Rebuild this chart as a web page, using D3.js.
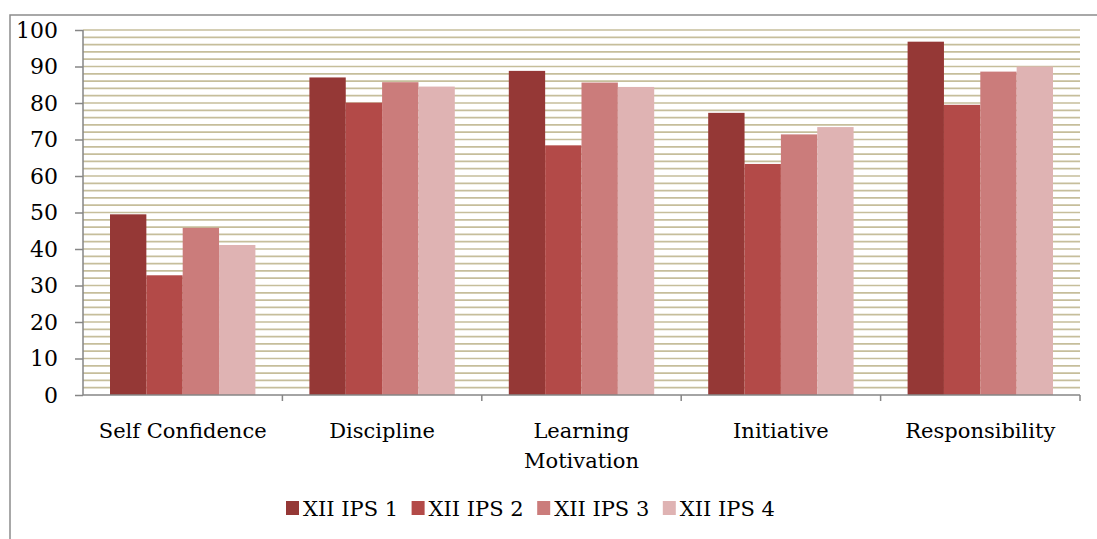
<!DOCTYPE html>
<html>
<head>
<meta charset="utf-8">
<script src="https://cdn.jsdelivr.net/npm/d3@7"></script>
<style>
  body { margin: 0; background: #fff; }
  text { font-family: "DejaVu Serif", serif; fill: #000; }
</style>
</head>
<body>
<svg id="chart" width="1097" height="539"></svg>
<script>
// chart data
var categories = ["Self Confidence", "Discipline", "Learning Motivation", "Initiative", "Responsibility"];
var seriesNames = ["XII IPS 1", "XII IPS 2", "XII IPS 3", "XII IPS 4"];
var ips1 = [49.5, 87.0, 88.8, 77.3, 96.8];
var ips2 = [32.8, 80.1, 68.4, 63.3, 79.5];
var ips3 = [45.8, 85.7, 85.6, 71.4, 88.6];
var ips4 = [41.1, 84.5, 84.4, 73.4, 90.0];
var yTicks = [0, 10, 20, 30, 40, 50, 60, 70, 80, 90, 100];

var seriesValues = [ips1, ips2, ips3, ips4];
var colors = ["#953836", "#b34a48", "#cb7c7b", "#dfb3b3"];

var margin = {top: 30, left: 83, right: 17, bottom: 144};
var svg = d3.select("#chart");
var width = 1097 - margin.left - margin.right,
    height = 539 - margin.top - margin.bottom;

// outer frame (only top and left edges show)
svg.append("path")
    .attr("d", "M10,539 V15 H1097")
    .attr("fill", "none")
    .attr("stroke", "#8c8c8c")
    .attr("stroke-width", 1.5);

var g = svg.append("g")
    .attr("transform", "translate(" + margin.left + "," + margin.top + ")");

var x = d3.scaleBand().domain(categories).range([0, width]).padding(0);
var inner = d3.scaleBand().domain(d3.range(seriesNames.length))
    .range([27, x.bandwidth() - 27]).padding(0);
var y = d3.scaleLinear().domain([0, 100]).range([height, 0]);

// gridlines every 2 units
g.append("g").selectAll("line")
    .data(d3.range(2, 101, 2))
    .enter().append("line")
    .attr("x1", 0).attr("x2", width)
    .attr("y1", function(d) { return y(d); })
    .attr("y2", function(d) { return y(d); })
    .attr("stroke", "#c6be9b")
    .attr("stroke-width", 1.7);

// bars
var rows = categories.map(function(c, i) {
    return seriesValues.map(function(s, j) { return {cat: c, k: j, v: s[i]}; });
});
g.append("g").selectAll("g")
    .data(rows)
    .enter().append("g")
    .attr("transform", function(d) { return "translate(" + x(d[0].cat) + ",0)"; })
    .selectAll("rect")
    .data(function(d) { return d; })
    .enter().append("rect")
    .attr("x", function(d) { return inner(d.k); })
    .attr("y", function(d) { return y(d.v); })
    .attr("width", inner.bandwidth())
    .attr("height", function(d) { return height - y(d.v); })
    .attr("fill", function(d) { return colors[d.k]; });

// y axis
var yAxis = g.append("g")
    .call(d3.axisLeft(y).tickValues(yTicks).tickSize(8).tickPadding(17))
    .call(function(a) { a.select(".domain").attr("d", "M0," + y(100) + "V" + y(0)); });
yAxis.selectAll("line, path").attr("stroke", "#868686").attr("stroke-width", 1.5);
yAxis.selectAll("text").attr("font-size", 22).attr("fill", "#000");

// x axis with ticks at band edges
var xa = g.append("g").attr("transform", "translate(0," + height + ")");
xa.append("line").attr("x1", 0).attr("x2", width)
    .attr("stroke", "#868686").attr("stroke-width", 1.5);
xa.selectAll(".tk")
    .data(categories.slice(1).concat(["end"]))
    .enter().append("line")
    .attr("x1", function(d, i) { return d === "end" ? width : x(d); })
    .attr("x2", function(d, i) { return d === "end" ? width : x(d); })
    .attr("y1", 0).attr("y2", 6)
    .attr("stroke", "#868686").attr("stroke-width", 1.5);

var labels = {"Learning Motivation": ["Learning", "Motivation"]};
xa.selectAll(".lbl")
    .data(categories)
    .enter().append("text")
    .attr("text-anchor", "middle")
    .attr("font-size", 21)
    .attr("x", function(d) { return x(d) + x.bandwidth() / 2; })
    .attr("y", 43)
    .each(function(d) {
        var lines = labels[d] || [d];
        var t = d3.select(this);
        lines.forEach(function(l, i) {
            t.append("tspan")
                .attr("x", x(d) + x.bandwidth() / 2)
                .attr("dy", i === 0 ? 0 : 30)
                .text(l);
        });
    });

// legend
var legend = svg.append("g").attr("transform", "translate(286,501)");
var item = legend.selectAll("g")
    .data(seriesNames)
    .enter().append("g")
    .attr("transform", function(d, i) { return "translate(" + (i * 125.6) + ",0)"; });
item.append("rect")
    .attr("width", 13).attr("height", 14)
    .attr("fill", function(d, i) { return colors[i]; });
item.append("text")
    .attr("x", 17).attr("y", 15)
    .attr("font-size", 21)
    .text(function(d) { return d; });
</script>
</body>
</html>
